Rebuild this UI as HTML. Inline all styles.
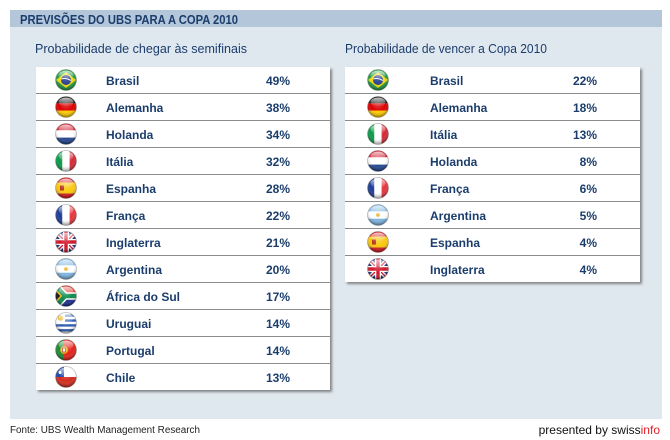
<!DOCTYPE html>
<html><head><meta charset="utf-8"><style>
html,body{margin:0;padding:0;background:#fff;}
svg{display:block;}
</style></head><body>
<svg width="670" height="440" viewBox="0 0 670 440" xmlns="http://www.w3.org/2000/svg" font-family="'Liberation Sans', sans-serif">
<defs>
  <filter id="sh" x="-5%" y="-5%" width="115%" height="115%">
    <feDropShadow dx="2" dy="2" stdDeviation="1.3" flood-color="#333" flood-opacity="0.55"/>
  </filter>
  <clipPath id="cc"><circle cx="11" cy="11" r="10.5"/></clipPath>
  <radialGradient id="gl" cx="50%" cy="35%" r="60%">
    <stop offset="0" stop-color="#fff" stop-opacity="0.25"/>
    <stop offset="0.6" stop-color="#fff" stop-opacity="0"/>
    <stop offset="1" stop-color="#000" stop-opacity="0.35"/>
  </radialGradient>
  <linearGradient id="hl" x1="0" y1="0" x2="0" y2="1">
    <stop offset="0" stop-color="#fff" stop-opacity="0.75"/>
    <stop offset="1" stop-color="#fff" stop-opacity="0"/>
  </linearGradient>

  <g id="gloss">
    <circle cx="11" cy="11" r="10.5" fill="url(#gl)"/>
    <ellipse cx="11" cy="6" rx="7.5" ry="4.5" fill="url(#hl)"/>
    <circle cx="11" cy="11" r="10.5" fill="none" stroke="#888" stroke-opacity="0.6" stroke-width="0.7"/>
  </g>

  <symbol id="br" viewBox="0 0 22 22"><g clip-path="url(#cc)">
    <rect width="22" height="22" fill="#1f9a42"/>
    <polygon points="1,11 11,3 21,11 11,19" fill="#f5d60c"/>
    <circle cx="11" cy="11" r="5" fill="#243f95"/>
    <path d="M6.3,10 Q11,8.5 15.8,11.5" stroke="#fff" stroke-width="1" fill="none"/>
  </g><use href="#gloss"/></symbol>

  <symbol id="de" viewBox="0 0 22 22"><g clip-path="url(#cc)">
    <rect width="22" height="7.4" fill="#111"/>
    <rect y="7.3" width="22" height="7.4" fill="#dd0000"/>
    <rect y="14.6" width="22" height="7.4" fill="#ffcc00"/>
  </g><use href="#gloss"/></symbol>

  <symbol id="nl" viewBox="0 0 22 22"><g clip-path="url(#cc)">
    <rect width="22" height="7.4" fill="#d01a2e"/>
    <rect y="7.3" width="22" height="7.4" fill="#fff"/>
    <rect y="14.6" width="22" height="7.4" fill="#23468f"/>
  </g><use href="#gloss"/></symbol>

  <symbol id="it" viewBox="0 0 22 22"><g clip-path="url(#cc)">
    <rect width="7.4" height="22" fill="#0a9a48"/>
    <rect x="7.3" width="7.4" height="22" fill="#fff"/>
    <rect x="14.6" width="7.4" height="22" fill="#d42a36"/>
  </g><use href="#gloss"/></symbol>

  <symbol id="es" viewBox="0 0 22 22"><g clip-path="url(#cc)">
    <rect width="22" height="22" fill="#d21a1f"/>
    <rect y="5.5" width="22" height="11" fill="#f9c80e"/>
    <rect x="5" y="8.5" width="4" height="5" fill="#b5341f"/>
  </g><use href="#gloss"/></symbol>

  <symbol id="fr" viewBox="0 0 22 22"><g clip-path="url(#cc)">
    <rect width="7.4" height="22" fill="#1e3c96"/>
    <rect x="7.3" width="7.4" height="22" fill="#fff"/>
    <rect x="14.6" width="7.4" height="22" fill="#e8353d"/>
  </g><use href="#gloss"/></symbol>

  <symbol id="gb" viewBox="0 0 22 22"><g clip-path="url(#cc)">
    <rect width="22" height="22" fill="#1d2d7a"/>
    <path d="M0,0 L22,22 M22,0 L0,22" stroke="#fff" stroke-width="4"/>
    <path d="M0,0 L22,22 M22,0 L0,22" stroke="#d0162a" stroke-width="1.4"/>
    <path d="M11,0 V22 M0,11 H22" stroke="#fff" stroke-width="6"/>
    <path d="M11,0 V22 M0,11 H22" stroke="#d0162a" stroke-width="3.4"/>
  </g><use href="#gloss"/></symbol>

  <symbol id="ar" viewBox="0 0 22 22"><g clip-path="url(#cc)">
    <rect width="22" height="22" fill="#7fb6e2"/>
    <rect y="7.3" width="22" height="7.4" fill="#fff"/>
    <circle cx="11" cy="11" r="1.9" fill="#f0b62b"/>
  </g><use href="#gloss"/></symbol>

  <symbol id="za" viewBox="0 0 22 22"><g clip-path="url(#cc)">
    <rect width="22" height="11" fill="#de3831"/>
    <rect y="11" width="22" height="11" fill="#1b2f8f"/>
    <path d="M0,0 L10,11 L0,22 M10,11 H22" stroke="#fff" stroke-width="7.5" fill="none"/>
    <path d="M0,0 L10,11 L0,22 M10,11 H22" stroke="#0a8a4a" stroke-width="4.5" fill="none"/>
    <polygon points="0,3.5 7,11 0,18.5" fill="#f6b81a"/>
    <polygon points="0,5.5 5.2,11 0,16.5" fill="#111"/>
  </g><use href="#gloss"/></symbol>

  <symbol id="uy" viewBox="0 0 22 22"><g clip-path="url(#cc)">
    <rect width="22" height="22" fill="#fff"/>
    <rect y="2.4" width="22" height="2.4" fill="#2a5bb0"/>
    <rect y="7.3" width="22" height="2.4" fill="#2a5bb0"/>
    <rect y="12.2" width="22" height="2.4" fill="#2a5bb0"/>
    <rect y="17.1" width="22" height="2.4" fill="#2a5bb0"/>
    <rect width="10" height="12" fill="#fff"/>
    <circle cx="5.5" cy="6" r="2.8" fill="#e8b92a"/>
  </g><use href="#gloss"/></symbol>

  <symbol id="pt" viewBox="0 0 22 22"><g clip-path="url(#cc)">
    <rect width="22" height="22" fill="#e3221c"/>
    <rect width="9" height="22" fill="#1a8a30"/>
    <circle cx="9" cy="11" r="3.8" fill="#f2d21a"/>
    <rect x="7.3" y="9" width="3.4" height="4" fill="#fff" stroke="#c62020" stroke-width="0.8"/>
  </g><use href="#gloss"/></symbol>

  <symbol id="cl" viewBox="0 0 22 22"><g clip-path="url(#cc)">
    <rect width="22" height="11" fill="#fff"/>
    <rect y="11" width="22" height="11" fill="#d52b1e"/>
    <rect width="9" height="11" fill="#1d45a6"/>
    <circle cx="5" cy="6.5" r="1.5" fill="#fff"/>
  </g><use href="#gloss"/></symbol>
</defs>

<rect width="670" height="440" fill="#fff"/>
<rect x="10" y="10" width="652" height="17" fill="#b3c6da"/>
<rect x="10" y="27" width="652" height="392" fill="#e0e8ef"/>
<text x="20" y="24" font-size="13" font-weight="bold" fill="#1b3d6c" textLength="218" lengthAdjust="spacingAndGlyphs">PREVISÕES DO UBS PARA A COPA 2010</text>

<text x="35" y="53" font-size="13" fill="#1b3d6c" textLength="212" lengthAdjust="spacingAndGlyphs">Probabilidade de chegar às semifinais</text>
<text x="345" y="53" font-size="13" fill="#1b3d6c" textLength="202" lengthAdjust="spacingAndGlyphs">Probabilidade de vencer a Copa 2010</text>

<!-- Left table -->
<rect x="36" y="67" width="294" height="323" fill="#fff" filter="url(#sh)"/>
<g stroke="#8c8c8c" stroke-width="1">
  <line x1="36" x2="330" y1="93.5" y2="93.5"/>
  <line x1="36" x2="330" y1="120.5" y2="120.5"/>
  <line x1="36" x2="330" y1="147.5" y2="147.5"/>
  <line x1="36" x2="330" y1="174.5" y2="174.5"/>
  <line x1="36" x2="330" y1="201.5" y2="201.5"/>
  <line x1="36" x2="330" y1="228.5" y2="228.5"/>
  <line x1="36" x2="330" y1="255.5" y2="255.5"/>
  <line x1="36" x2="330" y1="282.5" y2="282.5"/>
  <line x1="36" x2="330" y1="309.5" y2="309.5"/>
  <line x1="36" x2="330" y1="336.5" y2="336.5"/>
  <line x1="36" x2="330" y1="363.5" y2="363.5"/>
</g>
<g>
  <use href="#br" x="55" y="69" width="22" height="22"/>
  <use href="#de" x="55" y="96" width="22" height="22"/>
  <use href="#nl" x="55" y="123" width="22" height="22"/>
  <use href="#it" x="55" y="150" width="22" height="22"/>
  <use href="#es" x="55" y="177" width="22" height="22"/>
  <use href="#fr" x="55" y="204" width="22" height="22"/>
  <use href="#gb" x="55" y="231" width="22" height="22"/>
  <use href="#ar" x="55" y="258" width="22" height="22"/>
  <use href="#za" x="55" y="285" width="22" height="22"/>
  <use href="#uy" x="55" y="312" width="22" height="22"/>
  <use href="#pt" x="55" y="339" width="22" height="22"/>
  <use href="#cl" x="55" y="366" width="22" height="22"/>
</g>
<g font-size="12" font-weight="bold" fill="#1b3d6c">
  <text x="106" y="85">Brasil</text>
  <text x="106" y="112">Alemanha</text>
  <text x="106" y="139">Holanda</text>
  <text x="106" y="166">Itália</text>
  <text x="106" y="193">Espanha</text>
  <text x="106" y="220">França</text>
  <text x="106" y="247">Inglaterra</text>
  <text x="106" y="274">Argentina</text>
  <text x="106" y="301">África do Sul</text>
  <text x="106" y="328">Uruguai</text>
  <text x="106" y="355">Portugal</text>
  <text x="106" y="382">Chile</text>
</g>
<g font-size="12" font-weight="bold" fill="#1b3d6c" text-anchor="end">
  <text x="290" y="85">49%</text>
  <text x="290" y="112">38%</text>
  <text x="290" y="139">34%</text>
  <text x="290" y="166">32%</text>
  <text x="290" y="193">28%</text>
  <text x="290" y="220">22%</text>
  <text x="290" y="247">21%</text>
  <text x="290" y="274">20%</text>
  <text x="290" y="301">17%</text>
  <text x="290" y="328">14%</text>
  <text x="290" y="355">14%</text>
  <text x="290" y="382">13%</text>
</g>

<!-- Right table -->
<rect x="345" y="67" width="295" height="215" fill="#fff" filter="url(#sh)"/>
<g stroke="#8c8c8c" stroke-width="1">
  <line x1="345" x2="640" y1="93.5" y2="93.5"/>
  <line x1="345" x2="640" y1="120.5" y2="120.5"/>
  <line x1="345" x2="640" y1="147.5" y2="147.5"/>
  <line x1="345" x2="640" y1="174.5" y2="174.5"/>
  <line x1="345" x2="640" y1="201.5" y2="201.5"/>
  <line x1="345" x2="640" y1="228.5" y2="228.5"/>
  <line x1="345" x2="640" y1="255.5" y2="255.5"/>
</g>
<g>
  <use href="#br" x="367" y="69" width="22" height="22"/>
  <use href="#de" x="367" y="96" width="22" height="22"/>
  <use href="#it" x="367" y="123" width="22" height="22"/>
  <use href="#nl" x="367" y="150" width="22" height="22"/>
  <use href="#fr" x="367" y="177" width="22" height="22"/>
  <use href="#ar" x="367" y="204" width="22" height="22"/>
  <use href="#es" x="367" y="231" width="22" height="22"/>
  <use href="#gb" x="367" y="258" width="22" height="22"/>
</g>
<g font-size="12" font-weight="bold" fill="#1b3d6c">
  <text x="430" y="85">Brasil</text>
  <text x="430" y="112">Alemanha</text>
  <text x="430" y="139">Itália</text>
  <text x="430" y="166">Holanda</text>
  <text x="430" y="193">França</text>
  <text x="430" y="220">Argentina</text>
  <text x="430" y="247">Espanha</text>
  <text x="430" y="274">Inglaterra</text>
</g>
<g font-size="12" font-weight="bold" fill="#1b3d6c" text-anchor="end">
  <text x="597" y="85">22%</text>
  <text x="597" y="112">18%</text>
  <text x="597" y="139">13%</text>
  <text x="597" y="166">8%</text>
  <text x="597" y="193">6%</text>
  <text x="597" y="220">5%</text>
  <text x="597" y="247">4%</text>
  <text x="597" y="274">4%</text>
</g>

<!-- Footer -->
<text x="10" y="433" font-size="10" fill="#222" textLength="190" lengthAdjust="spacingAndGlyphs">Fonte: UBS Wealth Management Research</text>
<text x="660" y="434" font-size="12" fill="#111" text-anchor="end">presented by swiss<tspan fill="#e4202a">info</tspan></text>
</svg>
</body></html>
